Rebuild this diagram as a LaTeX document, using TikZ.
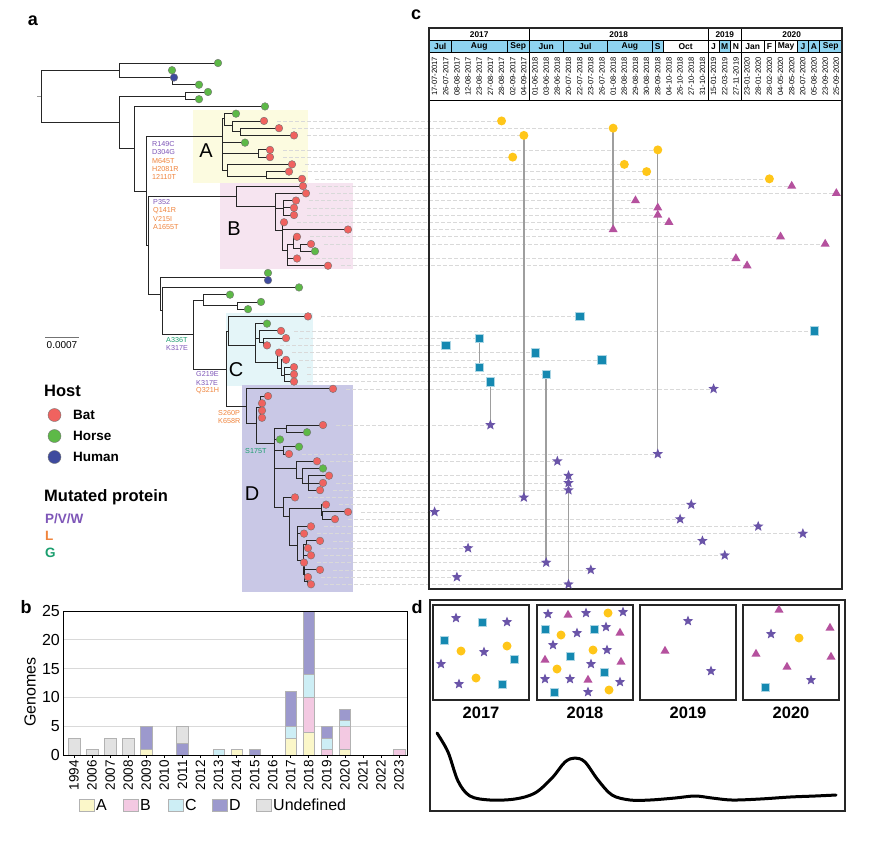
\documentclass[tikz,border=0pt]{standalone}
\usepackage{fontspec}
\setmainfont{Liberation Sans}
\usetikzlibrary{shapes.geometric}
\pgfdeclarelayer{back}
\pgfdeclarelayer{lines}
\pgfsetlayers{back,lines,main}
\definecolor{cbat}{HTML}{F0625F}
\definecolor{chorse}{HTML}{5DB947}
\definecolor{chuman}{HTML}{3E4A9E}
\definecolor{tpur}{HTML}{7E56B8}
\definecolor{torg}{HTML}{F0843C}
\definecolor{tgrn}{HTML}{1A9E6E}
\definecolor{boxA}{HTML}{FCFBE0}
\definecolor{boxB}{HTML}{F6E4F0}
\definecolor{boxC}{HTML}{E4F5F8}
\definecolor{boxD}{HTML}{C9C8E6}
\definecolor{cyel}{HTML}{FFC619}
\definecolor{cmag}{HTML}{B5519E}
\definecolor{cteal}{HTML}{1589B1}
\definecolor{cstar}{HTML}{6A54A8}
\definecolor{mblue}{HTML}{8ED3F0}
\definecolor{barA}{HTML}{FBF7C9}
\definecolor{barB}{HTML}{F3C9E2}
\definecolor{barC}{HTML}{CDEEF5}
\definecolor{barD}{HTML}{9C99CD}
\definecolor{barU}{HTML}{E2E2E2}
\newcommand{\fsz}[1]{\fontsize{#1}{#1}\selectfont}
\newcommand{\kids}[2]{\foreach \k in {#2}{\draw[tree] (#1) |- (\k);}}
\tikzset{
 tree/.style={line width=0.8pt, draw=black!85},
 tipnode/.style={circle, draw=black!55, line width=0.4pt, inner sep=0pt, minimum size=7.6pt},
 bat/.style={tipnode, fill=cbat},
 horse/.style={tipnode, fill=chorse},
 human/.style={tipnode, fill=chuman},
 mcirc/.style={circle, fill=cyel, inner sep=0pt, minimum size=9pt},
 mtri/.style={regular polygon, regular polygon sides=3, fill=cmag, inner sep=0pt, minimum size=10.5pt},
 msq/.style={rectangle, fill=cteal, draw=cteal!35, line width=0.5pt, inner sep=0pt, minimum size=8.5pt},
 mstar/.style={star, star points=5, star point ratio=2.3, fill=cstar, inner sep=0pt, minimum size=11pt},
 dline/.style={draw=black!15, dash pattern=on 4pt off 2pt, line width=0.6pt},
 vconn/.style={draw=black!38, line width=1.4pt},
 mut/.style={anchor=west, inner sep=0pt, font=\fsz{7.2}},
 bar/.style={draw=black!30, line width=0.4pt},
 dbox/.style={draw=black!85, line width=1.5pt},
}
\def\tiplist{1/218/horse,2/172/horse,3/174/human,4/199/horse,5/208/horse,6/199/horse,7/265/horse,8/236/horse,9/264/bat,10/279/bat,11/294/bat,12/245/horse,13/270/bat,14/270/bat,15/292/bat,16/289/bat,17/302/bat,18/303/bat,19/306/bat,20/296/bat,21/294/bat,22/294/bat,23/284/bat,24/348/bat,25/297/bat,26/311/bat,27/315/horse,28/297/bat,29/328/bat,30/268/horse,31/268/human,32/299/horse,33/230/horse,34/261/horse,35/248/horse,36/308/bat,37/267/horse,38/281/bat,39/286/bat,40/267/bat,41/279/bat,42/286/bat,43/294/bat,44/294/bat,45/294/bat,46/333/bat,47/268/bat,48/262/bat,49/262/bat,50/262/bat,51/323/bat,52/307/horse,53/280/horse,54/299/horse,55/289/bat,56/317/bat,57/323/horse,58/329/bat,59/323/bat,60/320/bat,61/295/bat,62/326/bat,63/348/bat,64/335/bat,65/311/bat,66/304/bat,67/320/bat,68/308/bat,69/311/bat,70/304/bat,71/320/bat,72/308/bat,73/311/bat}
\def\mklist{9/6/mcirc,10/16/mcirc,11/8/mcirc,13/20/mcirc,14/7/mcirc,15/17/mcirc,16/19/mcirc,17/30/mcirc,18/32/mtri,19/36/mtri,20/18/mtri,21/20/mtri,22/20/mtri,23/21/mtri,24/16/mtri,25/31/mtri,26/35/mtri,28/27/mtri,29/28/mtri,36/13/msq,38/34/msq,39/4/msq,40/1/msq,41/9/msq,42/15/msq,43/4/msq,44/10/msq,45/5/msq,46/25/mstar,51/5/mstar,55/20/mstar,56/11/mstar,58/12/mstar,59/12/mstar,60/12/mstar,61/8/mstar,62/23/mstar,63/0/mstar,64/22/mstar,65/29/mstar,66/33/mstar,67/24/mstar,68/3/mstar,69/26/mstar,70/10/mstar,71/14/mstar,72/2/mstar,73/12/mstar}
\begin{document}
\begin{tikzpicture}[x=1pt,y=-1pt]
\useasboundingbox (0,0) rectangle (882,847);
\begin{pgfonlayer}{back}
\fill[white] (0,0) rectangle (882,847);
\fill[boxA] (193,110) rectangle (308,183);
\fill[boxB] (220,183) rectangle (353,269);
\fill[boxC] (226,313) rectangle (313,386);
\fill[boxD] (242,385) rectangle (353,592);
\end{pgfonlayer}
% panel letters
\node[font=\bfseries\fsz{18}] (La) at (33,21) {a};
\node[font=\bfseries\fsz{18}] (Lc) at (416,15) {c};
\node[font=\bfseries\fsz{18}] (Lb) at (26,607) {b};
\node[font=\bfseries\fsz{18}] (Ld) at (417,607) {d};
% clade letters
\node[font=\fsz{20}] (cA) at (206,151) {A};
\node[font=\fsz{20}] (cB) at (234,229) {B};
\node[font=\fsz{20}] (cC) at (236,370) {C};
\node[font=\fsz{20}] (cD) at (252,494) {D};
% tips
\foreach \i/\x/\h in \tiplist {\coordinate (t\i) at (\x,{63+(\i-1)*7.24});}
\coordinate (R0) at (37,96);
\coordinate (R) at (41,96);
\coordinate (N1) at (119,70);
\coordinate (N1a) at (172,77);
\coordinate (N2) at (119,122);
\coordinate (N2a) at (185,96);
\coordinate (N3) at (134,148);
\coordinate (N4) at (146,191);
\coordinate (N5) at (148,245);
\coordinate (NA) at (222,136);
\coordinate (NA1) at (224,118);
\coordinate (NA2) at (232,125);
\coordinate (NA2b) at (240,131);
\coordinate (NA3) at (258,153);
\coordinate (NA4) at (227,170);
\coordinate (NA5) at (266,176);
\coordinate (NB) at (236,196);
\coordinate (NB1) at (275,206);
\coordinate (NB2) at (283,208);
\coordinate (NB3) at (282,230);
\coordinate (NB4) at (287,250);
\coordinate (NB5) at (293,244);
\coordinate (NB6) at (300,248);
\coordinate (N6) at (160,294);
\coordinate (N6a) at (268,277);
\coordinate (N7) at (162,310);
\coordinate (N8) at (193,334);
\coordinate (N9) at (203,300);
\coordinate (N9a) at (237,305);
\coordinate (NCD) at (226,369);
\coordinate (NC) at (228,331);
\coordinate (NC1) at (255,345);
\coordinate (NC2) at (259,338);
\coordinate (NC2b) at (263,342);
\coordinate (NC3) at (277,362);
\coordinate (NC4) at (281,368);
\coordinate (NC5) at (284,375);
\coordinate (ND) at (246,406);
\coordinate (ND1) at (256,423);
\coordinate (NDc) at (260,407);
\coordinate (ND2) at (274,443);
\coordinate (ND3) at (286,428);
\coordinate (ND4) at (283,450);
\coordinate (ND5) at (296,468);
\coordinate (ND6) at (302,478);
\coordinate (ND7) at (308,483);
\coordinate (ND8) at (283,507);
\coordinate (ND9) at (289,516);
\coordinate (ND10) at (321,508);
\coordinate (ND11) at (322,515);
\coordinate (ND12) at (297,545);
\coordinate (ND13) at (303,560);
\coordinate (ND14) at (306,544);
\coordinate (ND15) at (304,574);
\coordinate (ND16) at (307,581);
\draw[line width=0.8pt, black!40] (R0) -- (R);
\kids{R}{N1,N2}
\kids{N1}{t1,N1a}
\kids{N1a}{t2,t3,t4}
\kids{N2}{N2a,N3}
\kids{N2a}{t5,t6}
\kids{N3}{t7,N4}
\kids{N4}{NA,N5}
\kids{N5}{NB,N6}
\kids{NA}{NA1,t12,NA3,NA4}
\kids{NA1}{t8,NA2}
\kids{NA2}{t9,NA2b}
\kids{NA2b}{t10,t11}
\kids{NA3}{t13,t14}
\kids{NA4}{t15,NA5}
\kids{NA5}{t16,t17}
\kids{NB}{t18,NB1}
\kids{NB1}{t19,NB2,NB3}
\kids{NB2}{t20,t21,t22}
\kids{NB3}{t23,t24,NB4}
\kids{NB4}{NB5,t28,t29}
\kids{NB5}{t25,NB6}
\kids{NB6}{t26,t27}
\kids{N6}{N6a,N7}
\kids{N6a}{t30,t31}
\kids{N7}{t32,N8}
\kids{N8}{N9,NCD}
\kids{N9}{t33,N9a}
\kids{N9a}{t34,t35}
\kids{NCD}{NC,ND}
\kids{NC}{t36,NC1}
\kids{NC1}{t37,NC2,NC3}
\kids{NC2}{t38,NC2b}
\kids{NC2b}{t39,t40}
\kids{NC3}{t41,NC4}
\kids{NC4}{t42,NC5}
\kids{NC5}{t43,t44,t45}
\kids{ND}{t46,ND1}
\kids{ND1}{NDc,ND2}
\kids{NDc}{t47,t48,t49,t50}
\kids{ND2}{ND3,t53,ND4,ND5,ND8}
\kids{ND3}{t51,t52}
\kids{ND4}{t54,t55}
\kids{ND5}{t56,ND6}
\kids{ND6}{t57,ND7}
\kids{ND7}{t58,t59,t60}
\kids{ND8}{t61,ND9}
\kids{ND9}{ND10,ND12}
\kids{ND10}{t62,ND11}
\kids{ND11}{t63,t64}
\kids{ND12}{t65,t66,ND13}
\kids{ND13}{ND14,t69,ND15}
\kids{ND14}{t67,t68}
\kids{ND15}{t70,t71,ND16}
\kids{ND16}{t72,t73}
\foreach \i/\x/\h in \tiplist {\node[\h] (tc\i) at (t\i) {};}
% mutation labels
\node[mut, text=tpur] (m1) at (152,144) {R149C};
\node[mut, text=tpur] (m2) at (152,152.3) {D304G};
\node[mut, text=torg] (m3) at (152,160.6) {M645T};
\node[mut, text=torg] (m4) at (152,168.9) {H2081R};
\node[mut, text=torg] (m5) at (152,177.2) {12110T};
\node[mut, text=tpur] (m6) at (153,202) {P352};
\node[mut, text=torg] (m7) at (153,210.3) {Q141R};
\node[mut, text=torg] (m8) at (153,218.6) {V215I};
\node[mut, text=torg] (m9) at (153,226.9) {A1655T};
\node[mut, text=tgrn] (m10) at (166,340) {A336T};
\node[mut, text=tpur] (m11) at (166,348.3) {K317E};
\node[mut, text=tpur] (m12) at (196,374.5) {G219E};
\node[mut, text=tpur] (m13) at (196,382.8) {K317E};
\node[mut, text=torg] (m14) at (196,391.1) {Q321H};
\node[mut, text=torg] (m15) at (218,413) {S260P};
\node[mut, text=torg] (m16) at (218,421.3) {K658R};
\node[mut, text=tgrn] (m17) at (245,451) {S175T};
% scale bar
\coordinate (sb1) at (45,337);
\coordinate (sb2) at (79,337);
\draw[black!55, line width=0.8pt] (sb1) -- (sb2);
\node[font=\fsz{10}] (sbl) at (62,345.5) {0.0007};
% legend
\node[anchor=west, font=\bfseries\fsz{16.5}, inner sep=0pt] (hostt) at (44,391) {Host};
\node[bat, minimum size=13pt] (lg1) at (54.5,415) {};
\node[horse, minimum size=13pt] (lg2) at (54.5,436) {};
\node[human, minimum size=13pt] (lg3) at (54.5,457) {};
\node[anchor=west, font=\bfseries\fsz{13.5}, inner sep=0pt] (lgt1) at (73,415) {Bat};
\node[anchor=west, font=\bfseries\fsz{13.5}, inner sep=0pt] (lgt2) at (73,436) {Horse};
\node[anchor=west, font=\bfseries\fsz{13.5}, inner sep=0pt] (lgt3) at (73,457) {Human};
\node[anchor=west, font=\bfseries\fsz{16.5}, inner sep=0pt] (mpt) at (44,497) {Mutated protein};
\node[anchor=west, font=\bfseries\fsz{13.5}, inner sep=0pt, text=tpur] (mp1) at (45,519) {P/V/W};
\node[anchor=west, font=\bfseries\fsz{13.5}, inner sep=0pt, text=torg] (mp2) at (45,536) {L};
\node[anchor=west, font=\bfseries\fsz{13.5}, inner sep=0pt, text=tgrn] (mp3) at (45,553) {G};
% ===== panel c =====
\foreach \a/\b/\mn/\cc [count=\n] in {0/2/Jul/mblue,2/7/Aug/mblue,7/9/Sep/mblue,9/12/Jun/mblue,12/16/Jul/mblue,16/20/Aug/mblue,20/21/S/mblue,21/25/Oct/white,25/26/J/white,26/27/M/mblue,27/28/N/white,28/30/Jan/white,30/31/F/white,31/33/May/white,33/34/J/mblue,34/35/A/mblue,35/37/Sep/mblue}{
  \draw[fill=\cc, line width=0.5pt] ({429+11.16*\a},40) rectangle ({429+11.16*\b},52);
  \node[font=\bfseries\fsz{8.5}, inner sep=0pt] (mo\n) at ({429+11.16*(\a+\b)/2},46.3) {\mn};
}
\foreach \a/\b/\yy in {0/9/2017,9/25/2018,25/28/2019,28/37/2020}{
  \node[font=\bfseries\fsz{8.3}, inner sep=0pt] (yr\yy) at ({429+11.16*(\a+\b)/2},34.2) {\yy};
  \draw[line width=0.9pt] ({429+11.16*\b},28) -- ({429+11.16*\b},100);
}
\draw[line width=0.6pt] (429,40) -- (842,40);
\draw[line width=0.9pt] (429,100) -- (842,100);
\foreach \d [count=\n from 0] in {17-07-2017,26-07-2017,08-08-2017,12-08-2017,23-08-2017,27-08-2017,28-08-2017,02-09-2017,04-09-2017,01-06-2018,03-06-2018,28-06-2018,20-07-2018,22-07-2018,23-07-2018,26-07-2018,01-08-2018,28-08-2018,29-08-2018,30-08-2018,28-09-2018,04-10-2018,26-10-2018,27-10-2018,31-10-2018,15-01-2019,22-03-2019,27-11-2019,23-01-2020,28-01-2020,28-02-2020,04-05-2020,28-05-2020,20-07-2020,05-08-2020,23-09-2020,25-09-2020}{
  \node[rotate=90, font=\fsz{7.6}, inner sep=0pt] (dt\n) at ({429+11.16*(\n+0.5)},76.5) {\d};
}
\draw[line width=1.6pt, black!85] (429,28) rectangle (842,589);
\foreach \i/\c/\m in \mklist {
  \node[\m] (mk\i) at ({429+11.16*(\c+0.5)},{63+(\i-1)*7.24}) {};
  \begin{pgfonlayer}{lines}
  \draw[dline] ([xshift=13pt]t\i) -- (mk\i.center);
  \end{pgfonlayer}
}
\begin{pgfonlayer}{lines}
\draw[vconn] (mk11.center) -- (mk61.center);
\draw[vconn] (mk10.center) -- (mk24.center);
\draw[vconn] (mk13.center) -- (mk55.center);
\draw[vconn] (mk39.center) -- (mk43.center);
\draw[vconn] (mk45.center) -- (mk51.center);
\draw[vconn] (mk44.center) -- (mk70.center);
\draw[vconn] (mk60.center) -- (mk73.center);
\end{pgfonlayer}
% ===== panel b =====
\foreach \v in {5,10,15,20}{\draw[black!15, line width=0.7pt] (63,{755-5.76*\v}) -- (407,{755-5.76*\v});}
\foreach \k/\va/\vb/\vc/\vd/\vu in {0/0/0/0/0/3,1/0/0/0/0/1,2/0/0/0/0/3,3/0/0/0/0/3,4/1/0/0/4/0,5/0/0/0/0/0,6/0/0/0/2/3,7/0/0/0/0/0,8/0/0/1/0/0,9/1/0/0/0/0,10/0/0/0/1/0,11/0/0/0/0/0,12/3/0/2/6/0,13/4/6/4/11/0,14/0/1/2/2/0,15/1/4/1/2/0,16/0/0/0/0/0,17/0/0/0/0/0,18/0/1/0/0/0}{
  \pgfmathsetmacro\xl{74+18.06*\k-5.7}
  \pgfmathsetmacro\xr{74+18.06*\k+5.7}
  \pgfmathsetmacro\sa{\va}
  \pgfmathsetmacro\sb{\sa+\vb}
  \pgfmathsetmacro\sc{\sb+\vc}
  \pgfmathsetmacro\sd{\sc+\vd}
  \pgfmathsetmacro\su{\sd+\vu}
  \ifdim\va pt>0pt \draw[bar, fill=barA] (\xl,755) rectangle (\xr,{755-5.76*\sa}); \fi
  \ifdim\vb pt>0pt \draw[bar, fill=barB] (\xl,{755-5.76*\sa}) rectangle (\xr,{755-5.76*\sb}); \fi
  \ifdim\vc pt>0pt \draw[bar, fill=barC] (\xl,{755-5.76*\sb}) rectangle (\xr,{755-5.76*\sc}); \fi
  \ifdim\vd pt>0pt \draw[bar, fill=barD] (\xl,{755-5.76*\sc}) rectangle (\xr,{755-5.76*\sd}); \fi
  \ifdim\vu pt>0pt \draw[bar, fill=barU] (\xl,{755-5.76*\sd}) rectangle (\xr,{755-5.76*\su}); \fi
}
\draw[line width=0.9pt] (63,611) rectangle (407,755);
\foreach \yr [count=\n from 0] in {1994,2006,2007,2008,2009,2010,2011,2012,2013,2014,2015,2016,2017,2018,2019,2020,2021,2022,2023}{
  \draw[line width=0.6pt] ({74+18.06*\n},755) -- ({74+18.06*\n},758);
  \node[rotate=90, anchor=east, font=\fsz{13.5}, inner sep=0pt] (by\n) at ({74+18.06*\n},760) {\yr};
}
\foreach \v in {0,5,10,15,20,25}{\node[anchor=east, font=\fsz{16}, inner sep=0pt] (yt\v) at (60,{755-5.76*\v}) {\v};}
\node[rotate=90, font=\fsz{16}] (gen) at (30,692) {Genomes};
\foreach \x/\cc/\t [count=\n] in {79/barA/A,123/barB/B,168/barC/C,212/barD/D,256/barU/Undefined}{
  \draw[bar, fill=\cc] (\x,799) rectangle (\x+15,811);
  \node[anchor=west, font=\fsz{16}, inner sep=0pt] (bl\n) at (\x+17,805) {\t};
}
% ===== panel d =====
\draw[dbox] (430,600) rectangle (845,811);
\foreach \xa/\yy [count=\n] in {433/2017,537/2018,640/2019,743/2020}{
  \draw[dbox] (\xa,605) rectangle (\xa+96,700);
  \node[font=\bfseries\fsz{16.5}] (dy\n) at (\xa+48,713) {\yy};
}
\foreach \x/\y/\m [count=\n] in {456/618/mstar,482/622/msq,507/622/mstar,444/640/msq,461/651/mcirc,484/652/mstar,507/646/mcirc,514/659/msq,441/664/mstar,476/678/mcirc,459/684/mstar,502/684/msq,
548/614/mstar,568/615/mtri,586/613/mstar,608/613/mcirc,623/612/mstar,545/629/msq,561/635/mcirc,577/633/mstar,594/629/msq,606/627/mstar,620/633/mtri,553/645/mstar,570/656/msq,593/650/mcirc,607/650/mstar,545/660/mtri,591/664/mstar,621/662/mtri,557/669/mcirc,604/672/msq,545/679/mstar,570/679/mstar,588/680/mtri,620/682/mstar,554/692/msq,588/692/mstar,609/690/mcirc,
688/621/mstar,665/651/mtri,711/671/mstar,
779/610/mtri,771/634/mstar,799/638/mcirc,830/628/mtri,756/654/mtri,831/657/mtri,787/667/mtri,811/680/mstar,765/687/msq}{
  \node[\m] (dm\n) at (\x,\y) {};
}
\draw[line width=3pt, line cap=round, line join=round] plot[smooth, tension=0.55] coordinates {(437,733) (448,752) (458,781) (470,796) (490,800) (515,799) (535,793) (552,778) (565,762) (575,758) (585,762) (598,780) (612,795) (630,800) (650,800) (675,798) (695,796) (712,798) (732,800) (760,799) (790,797) (815,796) (836,795)};
\end{tikzpicture}
\end{document}
